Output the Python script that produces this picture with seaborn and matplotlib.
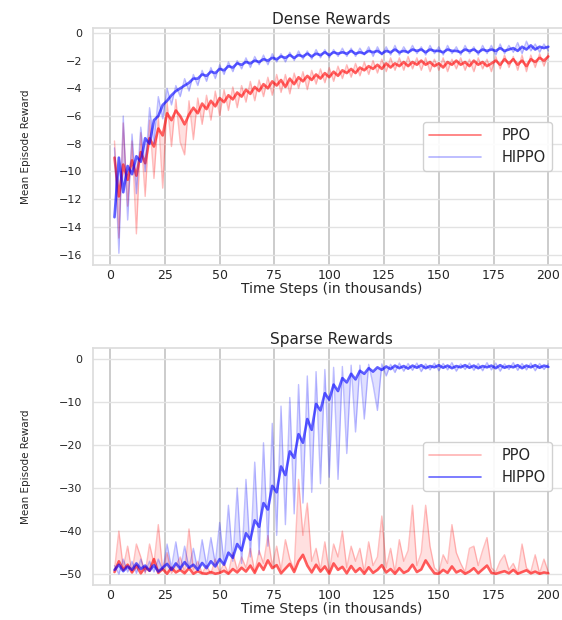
import numpy as np
import matplotlib
matplotlib.use("Agg")
import matplotlib.pyplot as plt
from matplotlib.lines import Line2D
import seaborn as sns

# time steps in thousands
steps = np.arange(2, 201, 2)

# ---- Dense rewards ----
dense_ppo_smooth = [
    -9.0, -11.8, -9.5, -10.6, -9.2, -10.3, -8.6, -9.4, -7.6, -8.2,
    -6.9, -7.4, -5.8, -6.3, -5.6, -6.0, -6.6, -5.9, -5.4, -5.8,
    -5.1, -5.5, -4.9, -5.3, -4.7, -5.0, -4.5, -4.8, -4.3, -4.6,
    -4.1, -4.4, -3.9, -4.2, -3.7, -4.0, -3.5, -3.8, -3.4, -3.9,
    -3.3, -3.7, -3.2, -3.5, -3.1, -3.4, -3.0, -3.3, -2.9, -3.2,
    -2.8, -3.1, -2.7, -2.9, -2.6, -2.9, -2.5, -2.7, -2.4, -2.6,
    -2.3, -2.6, -2.2, -2.5, -2.2, -2.4, -2.1, -2.4, -2.1, -2.3,
    -2.0, -2.3, -2.1, -2.4, -2.2, -2.5, -2.1, -2.3, -2.0, -2.3,
    -2.1, -2.4, -2.0, -2.3, -2.1, -2.4, -2.2, -2.0, -2.3, -1.9,
    -2.2, -1.9, -2.3, -2.0, -2.4, -1.9, -2.1, -1.8, -2.0, -1.7,
]
dense_ppo_raw = [
    -7.8, -14.8, -6.5, -12.5, -7.8, -14.5, -7.2, -11.8, -6.3, -10.5,
    -6.0, -11.2, -5.0, -8.2, -4.8, -7.9, -8.8, -4.9, -7.7, -4.7,
    -6.6, -4.5, -6.3, -4.2, -6.0, -4.1, -5.6, -3.9, -5.4, -3.8,
    -5.0, -3.5, -4.9, -3.4, -4.6, -3.2, -4.5, -3.0, -4.3, -3.0,
    -4.4, -2.9, -4.0, -2.8, -4.1, -2.7, -3.7, -2.6, -3.6, -2.5,
    -3.5, -2.4, -3.3, -2.3, -3.2, -2.2, -3.1, -2.1, -3.0, -2.0,
    -2.9, -1.9, -2.8, -1.8, -2.7, -1.8, -2.7, -1.7, -2.6, -1.8,
    -2.7, -1.8, -2.8, -1.9, -2.7, -1.8, -2.8, -1.9, -2.6, -1.8,
    -2.7, -1.9, -2.8, -1.8, -2.6, -1.9, -2.8, -1.7, -2.6, -1.6,
    -2.5, -1.7, -2.7, -1.6, -2.8, -1.6, -2.5, -1.5, -2.4, -1.5,
]
dense_hippo_smooth = [
    -13.3, -9.0, -11.5, -9.6, -10.2, -8.9, -9.3, -7.6, -8.0, -6.3,
    -6.0, -5.2, -4.9, -4.5, -4.2, -4.0, -3.8, -3.6, -3.3, -3.3,
    -3.0, -3.1, -2.8, -2.9, -2.6, -2.7, -2.4, -2.5, -2.2, -2.3,
    -2.1, -2.2, -2.0, -2.1, -1.9, -2.0, -1.8, -1.9, -1.7, -1.8,
    -1.6, -1.8, -1.6, -1.7, -1.5, -1.7, -1.5, -1.6, -1.4, -1.6,
    -1.4, -1.5, -1.4, -1.5, -1.3, -1.5, -1.4, -1.5, -1.3, -1.4,
    -1.3, -1.5, -1.3, -1.4, -1.2, -1.4, -1.3, -1.4, -1.2, -1.3,
    -1.2, -1.4, -1.2, -1.3, -1.3, -1.4, -1.2, -1.3, -1.3, -1.4,
    -1.2, -1.3, -1.2, -1.4, -1.2, -1.3, -1.2, -1.3, -1.1, -1.3,
    -1.2, -1.1, -1.3, -1.0, -1.2, -0.9, -1.2, -1.0, -1.1, -1.0,
]
dense_hippo_raw = [
    -8.3, -15.9, -6.0, -13.5, -7.3, -11.6, -6.8, -10.0, -5.4, -8.0,
    -4.6, -6.2, -4.0, -5.2, -3.8, -4.6, -3.3, -4.2, -3.0, -3.8,
    -2.7, -3.5, -2.5, -3.3, -2.3, -3.0, -2.1, -2.8, -2.0, -2.6,
    -1.8, -2.5, -1.7, -2.3, -1.6, -2.3, -1.5, -2.1, -1.5, -2.1,
    -1.4, -2.0, -1.3, -1.9, -1.3, -1.9, -1.2, -1.8, -1.2, -1.8,
    -1.2, -1.7, -1.1, -1.7, -1.1, -1.7, -1.1, -1.6, -1.0, -1.7,
    -1.0, -1.6, -1.0, -1.6, -0.9, -1.6, -1.0, -1.5, -0.9, -1.5,
    -1.0, -1.6, -0.9, -1.5, -1.0, -1.6, -0.9, -1.5, -1.0, -1.6,
    -0.9, -1.5, -1.0, -1.6, -0.9, -1.5, -0.9, -1.6, -0.8, -1.5,
    -0.9, -1.4, -0.7, -1.5, -0.6, -1.3, -0.8, -1.4, -0.8, -1.3,
]

# ---- Sparse rewards ----
sparse_ppo_smooth = [
    -49.5, -47.0, -49.0, -47.8, -49.6, -48.0, -49.8, -48.4, -49.2, -46.5,
    -49.7, -48.8, -49.9, -48.5, -49.6, -49.0, -49.8, -48.6, -49.9, -49.3,
    -49.8, -49.9, -49.5, -49.9, -49.7, -49.2, -49.9, -48.8, -49.6, -48.5,
    -49.4, -48.0, -49.7, -47.5, -49.0, -46.8, -48.6, -47.9, -49.8, -48.7,
    -47.6, -49.5, -47.0, -45.5, -48.0, -49.6, -47.8, -49.4, -48.2, -49.9,
    -47.5, -49.0, -48.3, -49.8, -48.1, -49.5, -48.6, -49.9, -48.4, -49.7,
    -49.0, -47.9, -49.6, -48.8, -49.9, -48.6, -49.7, -49.2, -47.8, -49.5,
    -48.9, -46.8, -48.4, -49.8, -49.9, -49.0, -49.7, -48.2, -49.6, -49.1,
    -49.9, -49.4, -48.6, -49.8, -48.9, -48.0, -49.7, -49.9, -49.6, -49.3,
    -49.8, -49.0, -49.9, -49.5, -49.1, -49.8, -49.4, -49.9, -49.6, -49.8,
]
sparse_ppo_raw = [
    -49.0, -40.0, -48.5, -43.5, -49.5, -43.0, -46.0, -49.8, -43.0, -47.5,
    -38.5, -49.0, -45.0, -49.8, -48.0, -46.0, -49.5, -39.5, -49.0, -47.0,
    -49.8, -48.0, -49.9, -46.5, -49.5, -47.5, -49.8, -45.0, -49.0, -46.0,
    -48.5, -44.0, -49.5, -44.5, -47.5, -41.0, -48.0, -43.5, -49.0, -42.0,
    -46.5, -49.0, -28.0, -41.0, -33.5, -47.0, -44.0, -49.0, -42.5, -49.5,
    -43.0, -46.0, -40.0, -48.5, -43.5, -47.0, -44.0, -49.5, -42.5, -48.0,
    -46.0, -36.5, -48.5, -44.0, -49.5, -42.0, -47.0, -44.5, -34.0, -48.0,
    -45.0, -34.0, -43.5, -48.5, -49.5, -45.5, -47.5, -38.5, -45.0, -47.5,
    -49.5, -44.0, -43.5, -48.0, -44.5, -41.5, -48.5, -49.5, -47.0, -45.5,
    -49.0, -47.5, -49.8, -43.0, -48.5, -49.5, -45.5, -49.8, -46.5, -49.5,
]
sparse_hippo_smooth = [
    -49.0, -47.8, -49.3, -48.2, -49.0, -47.5, -48.8, -48.0, -49.2, -47.9,
    -49.4, -48.5, -47.6, -49.0, -47.5, -48.7, -47.2, -48.5, -47.8, -49.0,
    -47.4, -48.6, -47.0, -48.2, -46.5, -47.8, -45.0, -46.2, -43.0, -44.5,
    -40.5, -42.0, -37.5, -39.0, -33.5, -35.0, -29.5, -31.0, -25.0, -27.0,
    -21.5, -23.0, -17.5, -19.5, -14.0, -16.5, -10.5, -12.0, -8.0, -9.5,
    -6.0, -7.5, -4.5, -5.5, -3.5, -4.8, -2.8, -3.5, -2.2, -3.0,
    -2.0, -2.6, -1.8, -2.4, -1.6, -2.2, -1.7, -2.3, -1.6, -2.1,
    -1.5, -2.2, -1.7, -2.0, -1.5, -2.1, -1.6, -2.2, -1.7, -2.0,
    -1.5, -2.1, -1.6, -2.2, -1.7, -2.0, -1.6, -2.2, -1.5, -2.1,
    -1.7, -2.0, -1.5, -2.2, -1.6, -2.0, -1.5, -2.1, -1.6, -1.9,
]
sparse_hippo_raw = [
    -48.0, -50.0, -46.5, -49.5, -47.0, -49.8, -46.5, -49.5, -47.0, -49.5,
    -46.5, -49.0, -43.0, -48.5, -42.5, -49.0, -43.5, -48.5, -44.0, -49.0,
    -42.0, -48.0, -41.5, -47.5, -38.0, -47.5, -34.0, -47.0, -30.0, -47.5,
    -28.0, -46.0, -24.0, -45.5, -19.5, -43.5, -15.0, -41.0, -11.0, -38.5,
    -9.0, -36.0, -6.0, -33.5, -4.0, -31.0, -3.0, -29.0, -2.5, -27.5,
    -2.0, -28.0, -1.8, -22.0, -1.5, -17.0, -1.5, -14.0, -1.3, -6.0,
    -12.0, -1.2, -4.0, -1.3, -3.2, -1.0, -2.9, -1.1, -2.7, -1.0,
    -3.0, -1.2, -2.6, -1.0, -2.8, -1.1, -2.6, -0.9, -2.9, -1.2,
    -2.5, -1.0, -2.7, -1.1, -2.8, -0.9, -2.6, -1.0, -2.9, -1.2,
    -2.5, -0.9, -2.7, -1.1, -2.6, -1.0, -2.8, -1.1, -2.5, -1.2,
]

x_ticks = [0, 25, 50, 75, 100, 125, 150, 175, 200]
dense_yticks = [0, -2, -4, -6, -8, -10, -12, -14, -16]
sparse_yticks = [0, -10, -20, -30, -40, -50]

sns.set_theme(style="whitegrid")
plt.rcParams['font.family'] = ['DejaVu Sans']

fig = plt.figure(figsize=(5.62, 6.2), dpi=100)
ax1 = fig.add_axes([0.1655, 0.5725, 0.8488, 0.3823])
ax2 = fig.add_axes([0.1655, 0.0565, 0.8488, 0.3823])


def draw_run(ax, raw, smooth, color):
    # noisy band between raw and smoothed curve, then both curves
    ax.fill_between(steps, raw, smooth, color=color, alpha=0.12, lw=0)
    sns.lineplot(x=steps, y=raw, color=color, alpha=0.25, lw=1.0, ax=ax)
    sns.lineplot(x=steps, y=smooth, color=color, alpha=0.62, lw=1.9, ax=ax)


def draw_panel(ax, ppo_raw, ppo_smooth, hippo_raw, hippo_smooth, title, ylim, yticks, leg_alpha):
    draw_run(ax, ppo_raw, ppo_smooth, 'red')
    draw_run(ax, hippo_raw, hippo_smooth, 'blue')

    ax.set_xlim(-7.8, 209.9)
    ax.set_ylim(*ylim)
    ax.set_xticks(x_ticks)
    ax.set_yticks(yticks)
    ax.tick_params(axis='x', labelsize=9, pad=3, length=0)
    ax.tick_params(axis='y', labelsize=8, pad=8, length=0)
    ax.grid(axis='x', color='#cccccc', lw=1.4)
    ax.grid(axis='y', color='#e2e2e2', lw=1.0)
    for sp in ax.spines.values():
        sp.set_color('#dddddd')

    ax.set_title(title, fontsize=11, pad=3)
    ax.set_xlabel("Time Steps (in thousands)", fontsize=10, labelpad=0)
    ax.set_ylabel("Mean Episode Reward", fontsize=7.5)
    ax.yaxis.set_label_coords(-0.13, 0.5)

    handles = [Line2D([], [], color='red', alpha=leg_alpha[0], lw=1.2),
               Line2D([], [], color='blue', alpha=leg_alpha[1], lw=1.2)]
    ax.legend(handles, ["PPO", "HIPPO"], loc='center right', bbox_to_anchor=(0.962, 0.5),
              borderaxespad=0, fontsize=10.5, handlelength=3.6, handletextpad=1.4,
              frameon=True, framealpha=0.9)


draw_panel(ax1, dense_ppo_raw, dense_ppo_smooth, dense_hippo_raw, dense_hippo_smooth,
           "Dense Rewards", (-16.75, 0.35), dense_yticks, (0.55, 0.3))
draw_panel(ax2, sparse_ppo_raw, sparse_ppo_smooth, sparse_hippo_raw, sparse_hippo_smooth,
           "Sparse Rewards", (-52.5, 2.5), sparse_yticks, (0.3, 0.6))

fig.savefig("out.png", dpi=100)
